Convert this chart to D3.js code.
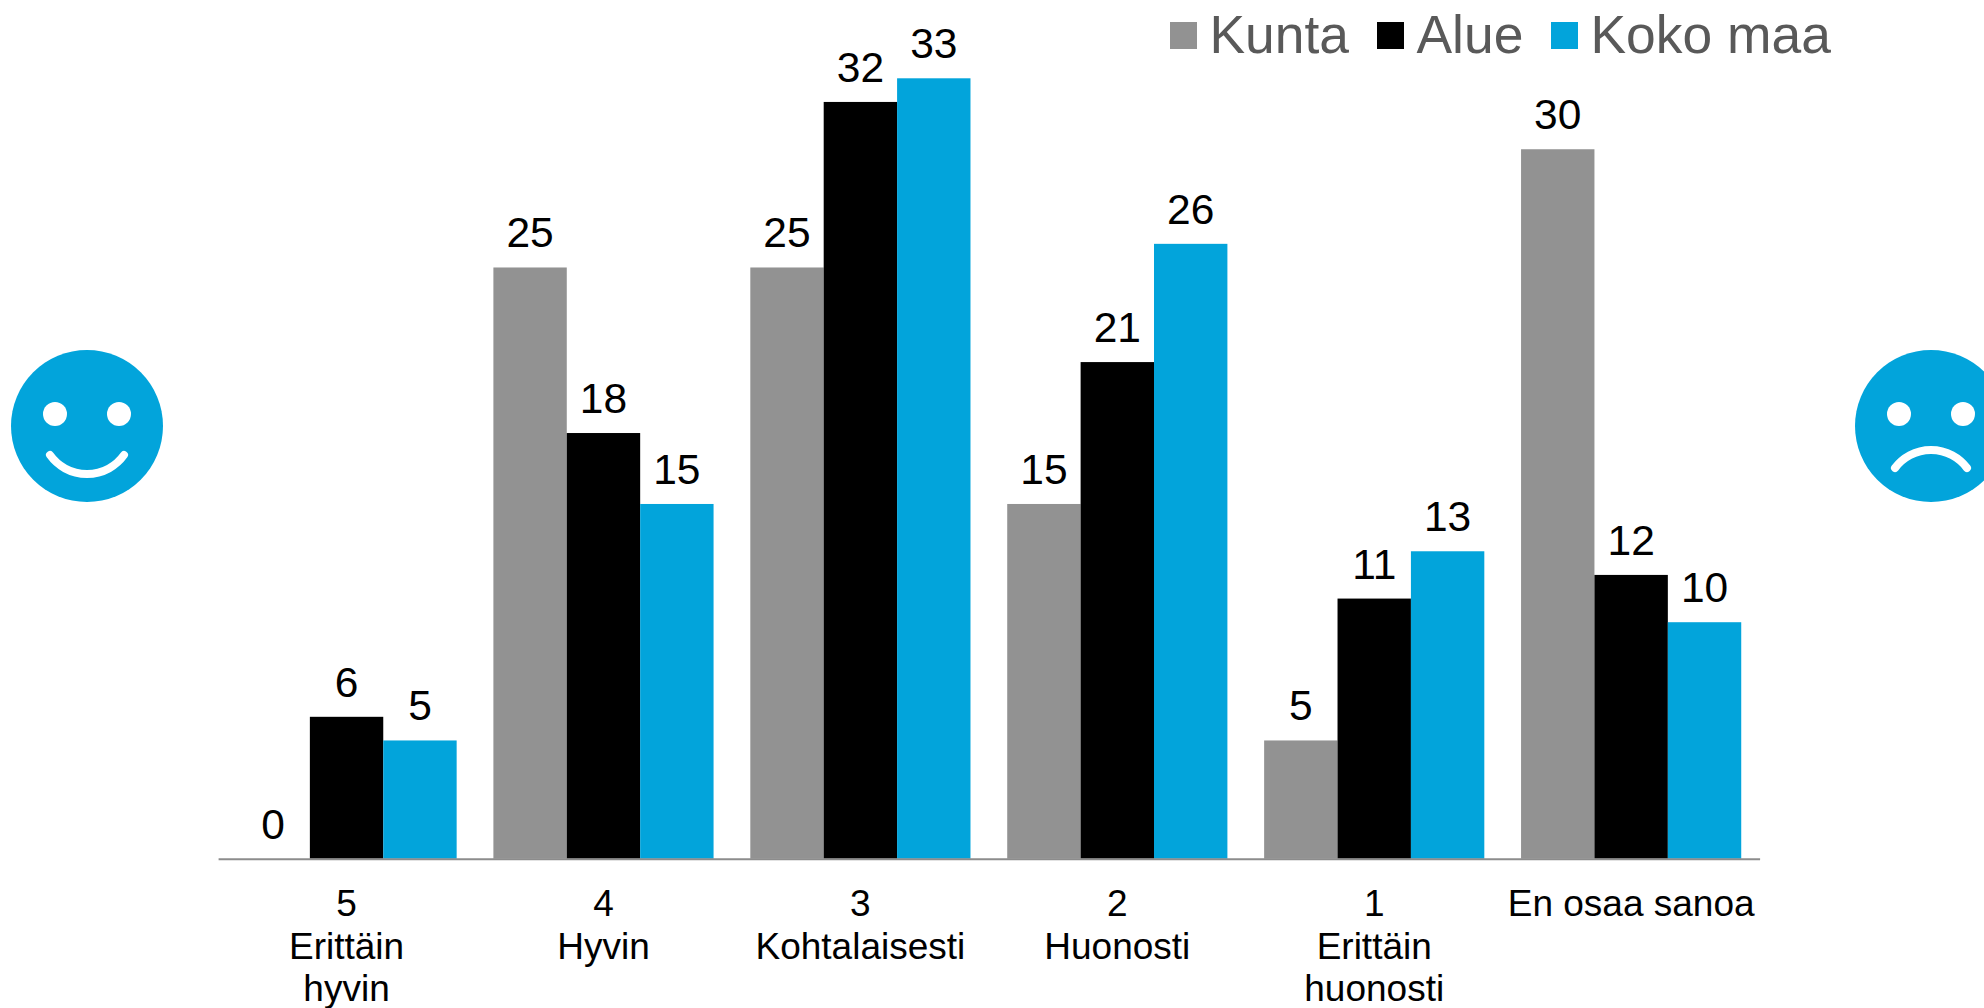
<!DOCTYPE html>
<html>
<head>
<meta charset="utf-8">
<script src="https://cdn.jsdelivr.net/npm/d3@7"></script>
<style>
html,body{margin:0;padding:0;background:#fff;overflow:hidden}
text{font-family:"Liberation Sans",Arial,sans-serif}
</style>
</head>
<body>
<div id="chart"></div>
<script>
//* data
var categories = ["5|Erittäin|hyvin","4|Hyvin","3|Kohtalaisesti","2|Huonosti","1|Erittäin|huonosti","En osaa sanoa"]
var seriesNames = ["Kunta","Alue","Koko maa"]
var kunta = [0,25,25,15,5,30]
var alue = [6,18,32,21,11,12]
var kokoMaa = [5,15,33,26,13,10]
var seriesValues = [kunta,alue,kokoMaa]
var colors = ["#929292","#000000","#02a4db"]
var legendX = [1170,1377,1551]

var W = 1984, H = 1008
var svg = d3.select("#chart").append("svg").attr("width",W).attr("height",H).style("display","block")

var x = d3.scaleBand().domain(categories).range([218.1,1759.6]).paddingInner(0.143).paddingOuter(0.0715)
var xs = d3.scaleBand().domain(seriesNames).range([0,x.bandwidth()])
var y = d3.scaleLinear().domain([0,35]).range([858.7,31])

//* bars
seriesNames.forEach(function(name,s){
    var g = svg.append("g").attr("class","series")
    g.selectAll("rect").data(categories).enter().append("rect")
        .attr("x",function(c){return x(c)+xs(name)})
        .attr("y",function(c,i){return y(seriesValues[s][i])})
        .attr("width",xs.bandwidth())
        .attr("height",function(c,i){return y(0)-y(seriesValues[s][i])})
        .attr("fill",colors[s])
    g.selectAll("text").data(categories).enter().append("text")
        .attr("x",function(c){return x(c)+xs(name)+xs.bandwidth()/2})
        .attr("y",function(c,i){return y(seriesValues[s][i])-20})
        .attr("text-anchor","middle")
        .style("font-size","42.5px")
        .attr("fill","#000")
        .text(function(c,i){return seriesValues[s][i]})
})

//* axis
var axis = svg.append("g").attr("transform","translate(0,"+y(0)+")").call(d3.axisBottom(x).tickSize(0).tickPadding(0))
axis.select(".domain").attr("stroke","#8c8c8c").attr("stroke-width",2)
axis.selectAll(".tick text").each(function(d){
    var t = d3.select(this).text(null).attr("y",0).attr("dy",null)
        .style("font-size","37px").style("font-family",'"Liberation Sans",Arial,sans-serif').attr("fill","#000")
    d.split("|").forEach(function(line,i){
        t.append("tspan").attr("x",0).attr("y",57.5+i*42.5).text(line)
    })
})

//* legend
seriesNames.forEach(function(name,s){
    svg.append("rect").attr("x",legendX[s]).attr("y",22).attr("width",27).attr("height",27).attr("fill",colors[s])
    svg.append("text").attr("x",legendX[s]+39.5).attr("y",53).style("font-size","53.4px").attr("fill","#595959").text(name)
})

//* faces
function face(cx,happy){
    var g = svg.append("g").attr("transform","translate("+cx+",426)")
    g.append("circle").attr("r",76).attr("fill",colors[2])
    g.append("circle").attr("cx",-32).attr("cy",-12).attr("r",12).attr("fill","#fff")
    g.append("circle").attr("cx",32).attr("cy",-12).attr("r",12).attr("fill","#fff")
    g.append("path")
        .attr("d",happy?"M-37,29A45.5,45.5 0 0 0 37,29":"M-36,42A45,45 0 0 1 36,42")
        .attr("fill","none").attr("stroke","#fff").attr("stroke-width",8).attr("stroke-linecap","round")
}
face(87,true)
face(1931,false)
</script>
</body>
</html>
